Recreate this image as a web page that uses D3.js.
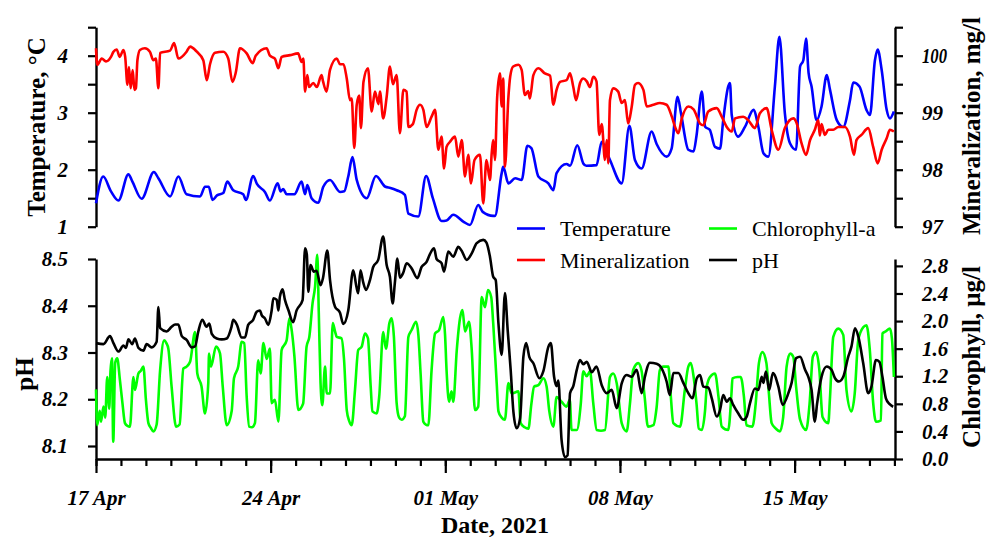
<!DOCTYPE html>
<html><head><meta charset="utf-8">
<script src="https://cdn.jsdelivr.net/npm/d3@7"></script>
<style>
body{margin:0;background:#fff;}
svg{display:block;font-family:"Liberation Serif","Times New Roman",serif;}
</style></head><body>
<svg id="chart" width="989" height="539"></svg>
<script>
// ---- DATA (day offset from 17 Apr 2021 00:00, value) ----
const startDate = new Date(2021, 3, 17);
const endDate = new Date(2021, 4, 19);

const temperature = [[0,1.41],[0.29,1.88],[0.6,1.62],[0.9,1.46],[1.3,1.92],[1.45,1.8],[1.83,1.49],[2.32,1.96],[2.5,1.85],[2.97,1.53],[3.3,1.88],[3.63,1.57],[4.17,1.53],[4.37,1.70],[4.52,1.70],[4.67,1.47],[4.85,1.55],[5.1,1.59],[5.26,1.79],[5.5,1.64],[5.9,1.57],[6.01,1.47],[6.3,1.89],[6.45,1.75],[6.77,1.61],[6.97,1.46],[7.28,1.76],[7.4,1.62],[7.5,1.66],[7.64,1.57],[7.95,1.57],[8.24,1.79],[8.38,1.57],[8.47,1.73],[8.64,1.50],[8.91,1.42],[9.11,1.70],[9.38,1.82],[9.78,1.61],[9.95,1.62],[10.11,1.88],[10.28,2.22],[10.45,1.82],[10.85,1.50],[11.22,1.89],[11.6,1.70],[11.8,1.68],[12.05,1.64],[12.38,1.56],[12.52,1.23],[12.92,1.18],[13.23,1.89],[13.5,1.5],[13.85,1.10],[14.05,1.11],[14.32,1.21],[14.72,1.09],[14.99,1.03],[15.32,1.38],[15.5,1.26],[15.92,1.19],[15.99,1.19],[16.26,1.94],[16.32,2.05],[16.53,1.76],[16.8,1.85],[17.06,1.82],[17.29,2.42],[17.45,2.38],[17.73,1.88],[18.13,1.76],[18.33,1.64],[18.46,1.94],[18.86,2.10],[19.0,2.07],[19.29,2.43],[19.53,2.11],[19.65,2.07],[20.06,2.08],[20.27,2.49],[20.6,2.17],[21.07,1.76],[21.38,2.77],[21.6,2.17],[21.87,2.02],[22.27,2.67],[22.47,2.45],[22.87,2.23],[23.07,2.37],[23.31,3.28],[23.45,2.98],[23.74,2.35],[23.95,2.32],[24.07,2.6],[24.28,3.37],[24.42,2.75],[24.6,2.70],[24.81,2.40],[25.01,2.37],[25.14,2.87],[25.34,3.46],[25.41,3.52],[25.48,2.96],[25.74,2.58],[26.01,2.75],[26.35,3.05],[26.55,2.75],[26.75,2.29],[26.95,2.23],[27.21,3.46],[27.39,4.33],[27.61,2.99],[27.82,2.46],[28.06,2.35],[28.22,3.81],[28.35,3.92],[28.46,4.30],[28.56,3.7],[28.68,3.46],[28.88,2.87],[29.08,3.11],[29.29,3.66],[29.42,3.40],[29.69,2.87],[29.95,2.75],[30.22,3.22],[30.35,3.53],[30.6,3.46],[30.88,3.05],[31.02,2.96],[31.22,3.92],[31.33,4.11],[31.49,3.75],[31.69,3.05],[31.82,2.90],[31.98,3.02]];

const mineralization = [[0,100.13],[0.05,99.84],[0.23,99.95],[0.4,99.9],[0.6,99.98],[0.7,100.07],[0.83,100.11],[0.95,99.98],[1.1,100.10],[1.17,99.98],[1.26,99.49],[1.32,99.8],[1.39,99.43],[1.47,99.75],[1.54,99.40],[1.6,99.43],[1.66,99.92],[1.76,100.10],[1.96,100.13],[2.16,100.07],[2.3,99.92],[2.4,99.95],[2.5,99.43],[2.57,100.05],[2.97,100.09],[3.13,100.22],[3.3,99.95],[3.63,100.07],[3.77,100.16],[4.04,100.07],[4.3,99.92],[4.44,99.57],[4.57,99.85],[4.77,100.05],[5.1,100.07],[5.3,99.95],[5.47,99.54],[5.6,99.7],[5.77,100.13],[6.04,100.04],[6.28,99.87],[6.4,100.0],[6.84,100.13],[6.97,100.0],[7.17,99.95],[7.31,99.78],[7.44,99.98],[7.78,100.01],[8.1,100.04],[8.24,99.89],[8.31,99.95],[8.38,99.37],[8.47,99.66],[8.54,99.45],[8.71,99.52],[8.85,99.45],[9.04,99.66],[9.1,99.55],[9.24,99.37],[9.38,99.75],[9.65,99.95],[9.78,99.85],[9.92,99.85],[10.05,99.60],[10.18,99.22],[10.25,99.25],[10.35,98.38],[10.45,99.14],[10.55,99.3],[10.62,98.73],[10.72,99.54],[10.9,99.78],[11.05,99.02],[11.18,99.37],[11.32,99.15],[11.38,99.37],[11.51,98.90],[11.65,99.28],[11.78,99.81],[11.9,99.5],[12.05,99.66],[12.18,98.64],[12.32,99.40],[12.45,99.37],[12.52,98.75],[12.7,98.8],[12.85,99.05],[12.99,99.14],[13.12,99.05],[13.25,98.75],[13.45,98.93],[13.59,99.05],[13.72,98.35],[13.85,98.58],[13.95,98.02],[14.05,98.4],[14.19,98.49],[14.39,98.58],[14.52,98.23],[14.66,98.52],[14.79,97.88],[14.92,98.26],[15.03,97.76],[15.17,98.17],[15.39,98.26],[15.52,97.41],[15.65,98.17],[15.79,97.82],[15.86,98.29],[15.92,98.52],[15.99,98.17],[16.08,99.28],[16.19,99.69],[16.26,99.11],[16.32,99.60],[16.39,98.05],[16.53,99.28],[16.6,99.63],[16.72,99.81],[16.93,99.84],[17.06,99.75],[17.19,99.31],[17.32,99.38],[17.39,99.25],[17.53,99.66],[17.73,99.78],[17.99,99.69],[18.2,99.65],[18.33,99.14],[18.46,99.4],[18.6,99.54],[18.86,99.57],[19.0,99.69],[19.13,99.45],[19.24,99.22],[19.4,99.52],[19.53,99.60],[19.67,99.55],[19.8,99.45],[19.93,99.63],[20.06,99.55],[20.17,98.61],[20.27,98.8],[20.4,98.17],[20.47,98.52],[20.53,98.11],[20.6,99.22],[20.73,99.43],[20.93,99.37],[21.07,99.17],[21.2,99.22],[21.33,98.81],[21.47,99.1],[21.6,99.49],[21.73,99.52],[21.94,99.4],[22.07,99.11],[22.34,99.14],[22.6,99.17],[22.87,99.14],[23.08,98.93],[23.21,98.75],[23.34,98.64],[23.48,98.9],[23.74,99.11],[23.95,99.06],[24.21,98.81],[24.34,98.78],[24.54,99.02],[24.88,99.08],[25.08,98.93],[25.28,98.75],[25.48,98.67],[25.61,98.90],[25.94,98.93],[26.14,98.87],[26.41,98.73],[26.61,98.99],[26.88,99.08],[27.08,98.70],[27.35,98.35],[27.61,98.73],[27.95,98.90],[28.08,98.82],[28.28,98.46],[28.46,98.26],[28.62,98.52],[28.81,98.70],[28.95,98.87],[29.01,98.6],[29.08,98.8],[29.21,98.61],[29.35,98.70],[29.55,98.70],[29.75,98.75],[30.02,98.75],[30.22,98.58],[30.38,98.26],[30.48,98.52],[30.68,98.61],[30.95,98.73],[31.15,98.40],[31.33,98.11],[31.49,98.35],[31.69,98.55],[31.82,98.70],[31.98,98.67]];

const pH = [[0,8.32],[0.3,8.318],[0.56,8.335],[0.7,8.32],[0.9,8.302],[1.1,8.315],[1.2,8.31],[1.3,8.328],[1.45,8.318],[1.56,8.33],[1.7,8.31],[1.9,8.304],[2.03,8.318],[2.23,8.311],[2.43,8.323],[2.5,8.397],[2.57,8.352],[2.83,8.345],[3.03,8.355],[3.17,8.36],[3.3,8.36],[3.44,8.335],[3.63,8.327],[3.84,8.311],[3.97,8.313],[4.1,8.345],[4.26,8.37],[4.43,8.355],[4.54,8.362],[4.64,8.34],[4.84,8.33],[5.04,8.328],[5.24,8.33],[5.43,8.355],[5.5,8.37],[5.64,8.36],[5.84,8.332],[5.97,8.332],[6.1,8.359],[6.3,8.37],[6.44,8.387],[6.57,8.39],[6.64,8.38],[6.77,8.373],[6.91,8.359],[7.04,8.39],[7.11,8.416],[7.24,8.413],[7.31,8.39],[7.37,8.419],[7.48,8.435],[7.57,8.413],[7.71,8.391],[7.9,8.365],[8.04,8.39],[8.28,8.412],[8.38,8.523],[8.45,8.51],[8.51,8.43],[8.6,8.487],[8.73,8.473],[8.84,8.475],[9.0,8.444],[9.1,8.46],[9.27,8.518],[9.38,8.455],[9.58,8.398],[9.78,8.385],[9.91,8.361],[10.11,8.39],[10.31,8.476],[10.44,8.44],[10.51,8.427],[10.6,8.476],[10.71,8.45],[10.82,8.434],[10.98,8.455],[11.11,8.483],[11.31,8.498],[11.51,8.548],[11.65,8.487],[11.78,8.462],[11.89,8.405],[11.98,8.45],[12.08,8.501],[12.18,8.46],[12.31,8.47],[12.45,8.491],[12.65,8.48],[12.88,8.459],[13.05,8.483],[13.25,8.494],[13.38,8.51],[13.55,8.523],[13.65,8.5],[13.85,8.491],[13.95,8.473],[14.12,8.516],[14.32,8.505],[14.52,8.526],[14.65,8.518],[14.86,8.498],[15.06,8.512],[15.26,8.534],[15.52,8.541],[15.65,8.535],[15.79,8.505],[15.92,8.462],[16.02,8.455],[16.13,8.362],[16.26,8.295],[16.39,8.427],[16.5,8.348],[16.62,8.263],[16.73,8.173],[16.86,8.138],[17.0,8.16],[17.13,8.291],[17.24,8.32],[17.37,8.29],[17.53,8.277],[17.77,8.245],[17.93,8.26],[18.13,8.312],[18.23,8.32],[18.36,8.248],[18.46,8.228],[18.53,8.24],[18.66,8.113],[18.8,8.076],[18.9,8.08],[19.0,8.213],[19.13,8.228],[19.27,8.263],[19.4,8.284],[19.53,8.275],[19.67,8.28],[19.87,8.258],[20.06,8.27],[20.27,8.23],[20.47,8.213],[20.67,8.22],[20.87,8.181],[21.07,8.234],[21.27,8.252],[21.47,8.248],[21.67,8.263],[21.87,8.213],[22.0,8.248],[22.2,8.278],[22.47,8.276],[22.67,8.266],[22.87,8.238],[23.0,8.209],[23.14,8.256],[23.34,8.256],[23.54,8.235],[23.74,8.213],[23.91,8.202],[24.08,8.245],[24.21,8.252],[24.34,8.227],[24.54,8.225],[24.68,8.202],[24.88,8.163],[25.01,8.177],[25.14,8.209],[25.28,8.195],[25.41,8.202],[25.54,8.188],[25.74,8.17],[25.94,8.156],[26.08,8.163],[26.21,8.191],[26.41,8.223],[26.55,8.22],[26.68,8.248],[26.75,8.235],[26.85,8.259],[26.98,8.22],[27.13,8.256],[27.35,8.227],[27.52,8.188],[27.75,8.213],[27.88,8.235],[28.06,8.288],[28.22,8.291],[28.42,8.263],[28.55,8.248],[28.68,8.22],[28.81,8.152],[28.9,8.19],[29.08,8.248],[29.29,8.27],[29.48,8.263],[29.62,8.245],[29.78,8.238],[29.95,8.248],[30.15,8.291],[30.28,8.313],[30.42,8.352],[30.55,8.335],[30.75,8.277],[30.95,8.213],[31.08,8.227],[31.26,8.284],[31.4,8.28],[31.52,8.248],[31.66,8.202],[31.8,8.19],[31.95,8.184]];

const chlorophyll = [[0,1.01],[0.05,0.49],[0.15,0.7],[0.2,0.54],[0.3,0.76],[0.37,0.6],[0.45,1.19],[0.53,0.73],[0.58,1.27],[0.64,1.46],[0.69,0.25],[0.77,1.4],[0.85,1.46],[0.96,1.14],[1.06,0.81],[1.16,0.52],[1.26,0.48],[1.36,0.47],[1.5,1.19],[1.56,1.0],[1.7,1.24],[1.8,1.28],[1.9,1.34],[2.0,0.86],[2.1,0.52],[2.2,0.45],[2.3,0.40],[2.43,0.5],[2.57,1.29],[2.73,1.72],[2.82,1.68],[2.9,1.60],[3.03,1.05],[3.21,0.47],[3.35,0.5],[3.5,1.31],[3.63,1.34],[3.77,1.41],[3.97,1.84],[4.06,1.24],[4.23,1.05],[4.37,0.66],[4.5,1.10],[4.53,1.53],[4.61,1.34],[4.81,1.63],[4.97,1.53],[5.08,1.05],[5.24,0.49],[5.44,0.7],[5.53,1.17],[5.7,1.34],[5.84,1.70],[5.94,1.68],[6.04,0.90],[6.14,0.47],[6.25,0.46],[6.37,0.52],[6.5,1.43],[6.6,1.24],[6.71,1.68],[6.84,1.45],[6.97,1.60],[7.04,0.81],[7.17,0.86],[7.31,0.54],[7.44,1.58],[7.64,1.72],[7.75,2.04],[7.85,1.85],[7.95,1.5],[8.11,0.71],[8.3,0.8],[8.44,1.63],[8.55,1.77],[8.68,2.26],[8.78,2.5],[8.87,2.96],[8.93,2.11],[9.0,1.10],[9.07,0.78],[9.18,1.34],[9.25,0.95],[9.38,0.95],[9.49,1.97],[9.58,1.85],[9.65,1.77],[9.84,1.75],[9.94,1.45],[10.05,0.71],[10.15,0.55],[10.25,0.49],[10.38,1.0],[10.51,1.58],[10.65,1.63],[10.78,1.82],[10.9,1.75],[11.01,1.05],[11.08,0.69],[11.25,0.66],[11.35,0.9],[11.51,1.84],[11.62,1.6],[11.76,1.97],[11.85,2.04],[11.94,1.77],[12.05,0.81],[12.15,0.6],[12.25,0.57],[12.38,0.62],[12.52,1.77],[12.65,1.87],[12.83,1.99],[12.92,1.8],[13.01,1.24],[13.12,0.54],[13.22,0.5],[13.32,0.49],[13.45,1.29],[13.59,1.82],[13.75,1.87],[13.92,2.06],[13.99,1.8],[14.05,1.29],[14.15,0.83],[14.25,0.98],[14.32,0.83],[14.46,1.58],[14.59,2.04],[14.69,2.16],[14.79,1.85],[14.95,1.99],[15.06,1.58],[15.19,0.71],[15.32,0.76],[15.46,2.35],[15.59,2.2],[15.71,2.45],[15.84,2.35],[15.92,1.97],[16.06,1.10],[16.13,0.69],[16.26,0.6],[16.39,0.57],[16.53,1.10],[16.66,0.95],[16.93,0.98],[17.02,0.52],[17.18,0.46],[17.33,0.44],[17.45,0.8],[17.56,1.05],[17.73,1.07],[17.93,1.17],[18.06,1.05],[18.17,0.69],[18.33,0.47],[18.46,0.9],[18.66,0.83],[18.86,0.76],[18.99,0.86],[19.06,0.42],[19.27,0.42],[19.43,0.8],[19.53,1.27],[19.67,1.2],[19.8,1.27],[19.93,0.81],[20.07,0.42],[20.24,0.41],[20.4,0.42],[20.6,1.19],[20.73,1.24],[20.87,1.1],[21.07,0.52],[21.27,0.40],[21.4,0.8],[21.53,1.29],[21.73,1.39],[21.86,1.29],[21.99,0.90],[22.12,0.47],[22.34,0.49],[22.47,0.75],[22.6,1.29],[22.74,1.34],[22.94,1.34],[23.02,1.0],[23.14,0.52],[23.41,0.47],[23.6,1.0],[23.74,1.34],[23.84,1.39],[23.95,1.2],[24.07,0.8],[24.16,0.44],[24.28,0.42],[24.41,0.7],[24.48,1.05],[24.61,1.19],[24.81,1.24],[24.95,0.9],[25.08,0.47],[25.34,0.42],[25.47,0.95],[25.51,1.17],[25.71,1.19],[25.84,1.19],[25.97,0.9],[26.07,0.49],[26.31,0.47],[26.44,0.8],[26.57,1.39],[26.71,1.55],[26.87,1.39],[26.97,0.95],[27.08,0.52],[27.25,0.44],[27.41,0.40],[27.54,0.6],[27.68,1.34],[27.82,1.53],[27.95,1.48],[28.06,1.05],[28.22,0.57],[28.46,0.42],[28.6,0.8],[28.73,1.48],[28.86,1.55],[28.99,1.3],[29.12,0.61],[29.35,0.52],[29.42,0.9],[29.55,1.77],[29.75,1.89],[29.95,1.8],[30.08,1.0],[30.28,0.69],[30.41,0.95],[30.55,1.72],[30.75,1.91],[30.88,1.94],[31.01,1.6],[31.15,0.81],[31.26,0.54],[31.46,0.56],[31.52,1.82],[31.65,1.85],[31.82,1.89],[31.9,1.75],[31.98,1.19]];

const tempTicks = [1,1.5,2,2.5,3,3.5,4,4.5];
const mineralTicks = [97,97.5,98,98.5,99,99.5,100,100.5];
const pHTicks = [8.1,8.2,8.3,8.4,8.5];
const chlTicks = [0,0.4,0.8,1.2,1.6,2.0,2.4,2.8];
const majorDates = [new Date(2021,3,17), new Date(2021,3,24), new Date(2021,4,1), new Date(2021,4,8), new Date(2021,4,15)];
const legendNames = ["Temperature","Mineralization","Chlorophyll-a","pH"];
const legendColors = ["#0000ff","#ff0000","#00ff00","#000000"];

// ---- DRAW ----
const svg = d3.select("#chart");
const toDate = d => new Date(startDate.getTime() + d * 864e5);

const x = d3.scaleTime().domain([startDate, endDate]).range([96, 894.4]);
const yTemp = d3.scaleLinear().domain([1, 4.5]).range([226.7, 27.2]);
const yMin = d3.scaleLinear().domain([97, 100.5]).range([226.7, 27.2]);
const yPH = d3.scaleLinear().domain([8.1, 8.5]).range([446, 259]);
yPH.domain([yPH.invert(459), 8.5]).range([459, 259]);
const yChl = d3.scaleLinear().domain([0, 2.9]).range([459, 259]);

const tickFont = g => g.selectAll("text")
  .attr("font-family", '"Liberation Serif","Times New Roman",serif')
  .attr("font-size", 21).attr("font-weight", "bold").attr("font-style", "italic").attr("fill", "#000");
const styleAxis = g => {
  g.select(".domain").attr("stroke-width", 2.4);
  g.selectAll(".tick line").attr("stroke-width", 2.2);
  tickFont(g);
};

svg.append("g").attr("transform", "translate(96,0)")
  .call(d3.axisLeft(yTemp).tickValues(tempTicks).tickSize(8).tickSizeOuter(0).tickPadding(20)
    .tickFormat(d => Number.isInteger(d) ? d3.format("d")(d) : ""))
  .call(styleAxis);
const gMinAxis = svg.append("g").attr("transform", "translate(895,0)")
  .call(d3.axisRight(yMin).tickValues(mineralTicks).tickSize(8).tickSizeOuter(0).tickPadding(19)
    .tickFormat(d => Number.isInteger(d) ? d3.format("d")(d) : ""))
  .call(styleAxis);
gMinAxis.selectAll(".tick text").filter(d => d >= 100)
  .attr("textLength", 25).attr("lengthAdjust", "spacingAndGlyphs");
svg.append("g").attr("transform", "translate(96,0)")
  .call(d3.axisLeft(yPH).tickValues(pHTicks).tickSize(8).tickSizeOuter(0).tickPadding(20).tickFormat(d3.format(".1f")))
  .call(styleAxis);
svg.append("g").attr("transform", "translate(895,0)")
  .call(d3.axisRight(yChl).tickValues(chlTicks).tickSize(8).tickSizeOuter(0).tickPadding(19).tickFormat(d3.format(".1f")))
  .call(styleAxis);

// x axis: daily minor ticks, weekly major ticks
svg.append("g").attr("transform", "translate(0,459)")
  .call(d3.axisBottom(x).ticks(d3.timeDay.every(1)).tickSize(7).tickSizeOuter(0).tickFormat(""))
  .call(styleAxis);
const xMajor = svg.append("g").attr("transform", "translate(0,459)")
  .call(d3.axisBottom(x).tickValues(majorDates).tickSize(14).tickSizeOuter(0).tickFormat(d3.timeFormat("%d %b")))
  .call(styleAxis);
xMajor.select(".domain").remove();
xMajor.selectAll(".tick text").attr("y", 46).attr("dy", 0);

// lines
const mkLine = y => d3.line().curve(d3.curveMonotoneX).x(d => x(toDate(d[0]))).y(d => y(d[1]));
const series = [
  [temperature, yTemp, legendColors[0]],
  [mineralization, yMin, legendColors[1]],
  [chlorophyll, yChl, legendColors[2]],
  [pH, yPH, legendColors[3]]
];
series.forEach(([data, y, col]) => {
  svg.append("path").datum(data).attr("d", mkLine(y))
    .attr("fill", "none").attr("stroke", col).attr("stroke-width", 2.6)
    .attr("stroke-linejoin", "round");
});

// axis titles
const title = (txt, tx, ty, rot, size) => svg.append("text")
  .attr("transform", `translate(${tx},${ty})` + (rot ? " rotate(-90)" : ""))
  .attr("text-anchor", "middle").attr("font-weight", "bold").attr("font-size", size)
  .attr("fill", "#000").text(txt);
title("Temperature, °C", 45, 127, true, 25);
title("pH", 33, 374, true, 25);
title("Mineralization, mg/l", 980, 126, true, 25);
title("Chlorophyll, μg/l", 980, 357, true, 25);
title("Date, 2021", 495, 533, false, 24);

// legend
const legPos = [[517, 228.5], [517, 260], [709, 228.5], [709, 260]];
legendNames.forEach((name, i) => {
  const [lx, ly] = legPos[i];
  svg.append("line").attr("x1", lx).attr("x2", lx + 28).attr("y1", ly).attr("y2", ly)
    .attr("stroke", legendColors[i]).attr("stroke-width", 2.6);
  svg.append("text").attr("x", lx + 43).attr("y", ly + 7.5).attr("font-size", 22)
    .attr("fill", "#000").text(name);
});
</script>
</body></html>
